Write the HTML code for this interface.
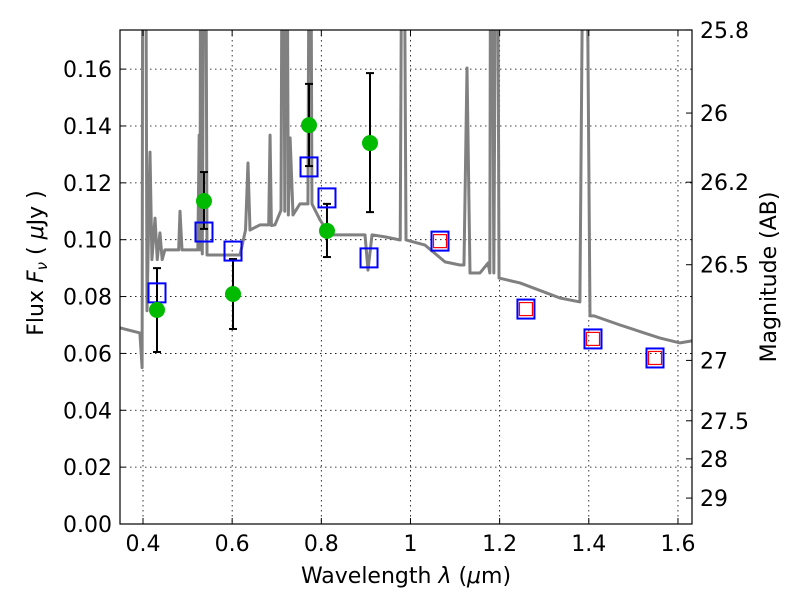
<!DOCTYPE html>
<html><head><meta charset="utf-8"><style>
body{margin:0;background:#fff;}
svg text{font-family:"DejaVu Sans","Liberation Sans",sans-serif;fill:#000;}
</style></head><body>
<svg id="chart" width="800" height="600" xmlns="http://www.w3.org/2000/svg">
<rect width="800" height="600" fill="#fff"/>
<defs><clipPath id="clip"><rect x="120" y="30" width="572" height="494"/></clipPath></defs>
<g id="grid"></g>
<g id="plot" clip-path="url(#clip)"></g>
<rect x="120" y="30" width="572" height="494" fill="none" stroke="#000" stroke-width="1.2"/>
<g id="axes"></g>
<text x="406" y="583" font-size="22" text-anchor="middle">Wavelength  <tspan font-style="italic">λ</tspan> (<tspan font-style="italic">μ</tspan>m)</text>
<text transform="translate(43,263) rotate(-90)" font-size="22" text-anchor="middle">Flux  <tspan font-style="italic">F<tspan font-size="15" dy="4">ν</tspan></tspan><tspan dy="-4">  ( </tspan><tspan font-style="italic">μ</tspan>Jy )</text>
<text transform="translate(776,277) rotate(-90)" font-size="22" text-anchor="middle">Magnitude (AB)</text>
</svg>
<script>
const specLam=[0.348,0.393,0.398,0.400,0.4045,0.409,0.4157,0.420,0.427,0.432,0.438,0.443,0.449,0.472,0.480,0.483,0.4875,0.523,0.526,0.528,0.530,0.533,0.539,0.5436,0.548,0.6176,0.630,0.6355,0.640,0.6624,0.682,0.685,0.688,0.696,0.7096,0.714,0.718,0.721,0.726,0.730,0.7365,0.752,0.770,0.7746,0.779,0.797,0.819,0.853,0.898,0.9047,0.9137,0.943,0.977,0.983,0.99,1.0326,1.0774,1.111,1.12,1.1268,1.1335,1.156,1.174,1.178,1.1806,1.187,1.194,1.1986,1.2457,1.3354,1.380,1.3915,1.4027,1.4117,1.47,1.5597,1.6046,1.6315];
const specFlux=[0.069,0.0672,0.055,0.30,0.30,0.075,0.1308,0.093,0.1076,0.093,0.1024,0.093,0.0964,0.0964,0.0964,0.110,0.0964,0.0964,0.1368,0.0964,0.30,0.095,0.30,0.0946,0.0946,0.0946,0.1034,0.127,0.1034,0.1052,0.1052,0.1368,0.105,0.1052,0.1104,0.30,0.110,0.30,0.1087,0.1358,0.1087,0.1126,0.1126,0.30,0.1126,0.107,0.1017,0.1017,0.1017,0.0893,0.1017,0.101,0.0999,0.30,0.0999,0.0981,0.0922,0.0911,0.0911,0.1604,0.0883,0.0883,0.0918,0.0883,0.30,0.0883,0.30,0.0865,0.0848,0.0795,0.0781,0.30,0.0732,0.0732,0.070,0.0654,0.0637,0.0644];
const obsLam=[0.4314,0.5368,0.6019,0.7724,0.8127,0.9092];
const obsFlux=[0.0753,0.1136,0.0809,0.1403,0.1031,0.134];
const obsHi=[0.090,0.1238,0.0932,0.1548,0.1126,0.1586];
const obsLo=[0.0605,0.1038,0.0686,0.1259,0.0939,0.1097];
const modLam=[0.4314,0.5368,0.6019,0.7724,0.8127,0.907,1.0662,1.259,1.4094,1.5485];
const modFlux=[0.0813,0.1027,0.096,0.1256,0.1147,0.0936,0.0995,0.0756,0.0651,0.0584];
const redLam=[1.0662,1.259,1.4094,1.5485];
const redFlux=[0.0995,0.0756,0.0651,0.0584];
const xTicks=[0.4,0.6,0.8,1.0,1.2,1.4,1.6];
const xTickLabels=["0.4","0.6","0.8","1","1.2","1.4","1.6"];
const yTicks=[0,0.02,0.04,0.06,0.08,0.10,0.12,0.14,0.16];
const yTickLabels=["0.00","0.02","0.04","0.06","0.08","0.10","0.12","0.14","0.16"];
const magTicks=[25.8,26,26.2,26.5,27,27.5,28,29];
const magLabels=["25.8","26","26.2","26.5","27","27.5","28","29"];

const X=v=>143+(v-0.4)*445.8;
const Y=v=>524-v*2843;
const NS="http://www.w3.org/2000/svg";
function mk(tag,attrs,parent){const e=document.createElementNS(NS,tag);for(const k in attrs)e.setAttribute(k,attrs[k]);parent.appendChild(e);return e;}
const grid=document.getElementById('grid'),plot=document.getElementById('plot'),axes=document.getElementById('axes');

xTicks.forEach((t,i)=>{
  const gl=mk('line',{x1:X(t),x2:X(t),y1:30,y2:524,stroke:'#000','stroke-width':0.8,'stroke-dasharray':'1.5,3.5'},grid);
  
  mk('line',{x1:X(t),x2:X(t),y1:524,y2:518,stroke:'#000'},axes);
  mk('line',{x1:X(t),x2:X(t),y1:30,y2:36,stroke:'#000'},axes);
  const tx=mk('text',{x:X(t),y:551,'font-size':22,'text-anchor':'middle'},axes);
  tx.textContent=xTickLabels[i];
  
});
yTicks.forEach((t,i)=>{
  const gl=mk('line',{x1:120,x2:692,y1:Y(t),y2:Y(t),stroke:'#000','stroke-width':0.8,'stroke-dasharray':'1.5,3.5'},grid);
  
  mk('line',{x1:120,x2:126,y1:Y(t),y2:Y(t),stroke:'#000'},axes);
  const tx=mk('text',{x:112,y:Y(t)+8,'font-size':22,'text-anchor':'end'},axes);
  tx.textContent=yTickLabels[i];
  
});
magTicks.forEach((m,i)=>{
  const f=Math.pow(10,(23.9-m)/2.5);const y=Y(f);
  mk('line',{x1:686,x2:692,y1:y,y2:y,stroke:'#000'},axes);
  const tx=mk('text',{x:700,y:y+8,'font-size':22},axes);
  tx.textContent=magLabels[i];
  
});

const sp=mk('polyline',{points:specLam.map((l,i)=>X(l)+','+Y(specFlux[i])).join(' '),fill:'none',stroke:'#808080','stroke-width':3,'stroke-linejoin':'round'},plot);



obsLam.forEach((l,i)=>{
  const g=mk('g',{},plot);
  
  
  mk('line',{x1:X(l),x2:X(l),y1:Y(obsHi[i]),y2:Y(obsLo[i]),stroke:'#000','stroke-width':2},g);
  mk('line',{x1:X(l)-4,x2:X(l)+4,y1:Y(obsHi[i]),y2:Y(obsHi[i]),stroke:'#000','stroke-width':2},g);
  mk('line',{x1:X(l)-4,x2:X(l)+4,y1:Y(obsLo[i]),y2:Y(obsLo[i]),stroke:'#000','stroke-width':2},g);
});
modLam.forEach((l,i)=>{
  const r=mk('rect',{x:X(l)-8.5,y:Y(modFlux[i])-9.5,width:17,height:19,fill:'none',stroke:'#0000ff','stroke-width':2},plot);
  
  
});
redLam.forEach((l,i)=>{
  const r=mk('rect',{x:X(l)-6.5,y:Y(redFlux[i])-6.5,width:13,height:13,fill:'none',stroke:'#ff0000','stroke-width':1.2},plot);
  
  
});
obsLam.forEach((l,i)=>{
  const c=mk('circle',{cx:X(l),cy:Y(obsFlux[i]),r:8,fill:'#00bb00'},plot);
  
  
});
</script>
</body></html>
